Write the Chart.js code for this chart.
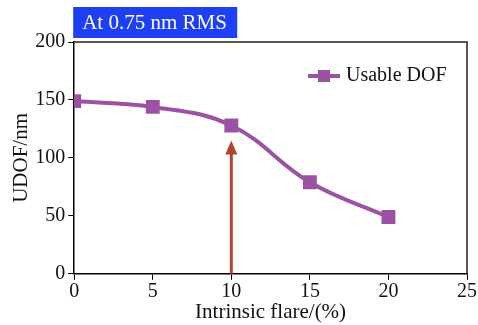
<!DOCTYPE html>
<html lang="en">
<head>
    <meta charset="UTF-8">
    <title>Usable DOF vs intrinsic flare</title>
    <script src="https://cdn.jsdelivr.net/npm/chart.js"></script>
    <style>
        body { margin: 0; background: #fff; }
        .chart-box { width: 478px; height: 325px; position: relative; }
    </style>
</head>
<body>
<div class="chart-box">
    <canvas id="dofChart"></canvas>
</div>
<script>
    const flare = [0, 5, 10, 15, 20];
    const usableDof = [149, 144, 128, 79, 49];
    const seriesName = 'Usable DOF';
    const boxTitle = 'At 0.75 nm RMS';
    const arrowAt = [10, 0, 115];   // x, from y, to y

    const serif = '"Liberation Serif", "DejaVu Serif", serif';
    const purple = '#9c52a3';

    // blue title box, custom legend, frame and arrow
    const extras = {
        id: 'extras',
        afterDraw(chart) {
            const { ctx, chartArea: a, scales: { x, y } } = chart;
            ctx.save();

            // frame top/right
            ctx.strokeStyle = '#222';
            ctx.lineWidth = 1.5;
            ctx.beginPath();
            ctx.moveTo(a.left, a.top);
            ctx.lineTo(a.right, a.top);
            ctx.lineTo(a.right, a.bottom);
            ctx.stroke();

            // arrow
            const ax = x.getPixelForValue(arrowAt[0]);
            const y0 = y.getPixelForValue(arrowAt[1]);
            const y1 = y.getPixelForValue(arrowAt[2]);
            ctx.strokeStyle = '#b5442c';
            ctx.fillStyle = '#b5442c';
            ctx.lineWidth = 3;
            ctx.beginPath();
            ctx.moveTo(ax, y0);
            ctx.lineTo(ax, y1 + 10);
            ctx.stroke();
            ctx.beginPath();
            ctx.moveTo(ax, y1);
            ctx.lineTo(ax - 6, y1 + 14);
            ctx.lineTo(ax + 6, y1 + 14);
            ctx.closePath();
            ctx.fill();

            // title box
            ctx.fillStyle = '#1f3ff5';
            ctx.fillRect(a.left - 1, 7, 164, 31);
            ctx.fillStyle = '#fff';
            ctx.font = '21px ' + serif;
            ctx.textBaseline = 'middle';
            ctx.textAlign = 'left';
            ctx.fillText(boxTitle, a.left + 8, 23);

            // legend
            const ly = 76;
            const lx = 308;
            ctx.strokeStyle = purple;
            ctx.lineWidth = 4;
            ctx.beginPath();
            ctx.moveTo(lx, ly);
            ctx.lineTo(lx + 32, ly);
            ctx.stroke();
            ctx.fillStyle = purple;
            ctx.fillRect(lx + 10, ly - 6, 12, 12);
            ctx.fillStyle = '#111';
            ctx.font = '20px ' + serif;
            ctx.fillText(seriesName, lx + 38, ly);
            ctx.restore();
        }
    };

    new Chart(document.getElementById('dofChart'), {
        type: 'line',
        data: {
            datasets: [{
                label: seriesName,
                data: flare.map((v, i) => ({ x: v, y: usableDof[i] })),
                borderColor: purple,
                backgroundColor: purple,
                borderWidth: 4,
                tension: 0.4,
                pointStyle: 'rect',
                pointRadius: 7,
                pointHoverRadius: 7,
                fill: false
            }]
        },
        options: {
            responsive: true,
            maintainAspectRatio: false,
            animation: false,
            layout: { padding: { top: 42, right: 11, left: 9, bottom: 0 } },
            plugins: {
                legend: { display: false },
                tooltip: { enabled: false }
            },
            scales: {
                x: {
                    type: 'linear',
                    min: 0, max: 25,
                    ticks: { stepSize: 5, color: '#111', font: { family: serif, size: 20 }, padding: 0 },
                    grid: { drawOnChartArea: false, drawTicks: true, tickLength: 6, color: '#000' },
                    border: { color: '#000', width: 1.5 },
                    title: { display: true, text: 'Intrinsic flare/(%)', color: '#111', font: { family: serif, size: 21 }, padding: { top: -4, bottom: 0 } }
                },
                y: {
                    min: 0, max: 200,
                    ticks: { stepSize: 50, color: '#111', font: { family: serif, size: 20 }, padding: 3 },
                    grid: { drawOnChartArea: false, drawTicks: true, tickLength: 6, color: '#000' },
                    border: { color: '#000', width: 1.5 },
                    title: { display: true, text: 'UDOF/nm', color: '#111', font: { family: serif, size: 21 }, padding: { top: 0, bottom: -2 } }
                }
            }
        },
        plugins: [extras]
    });
</script>
</body>
</html>
